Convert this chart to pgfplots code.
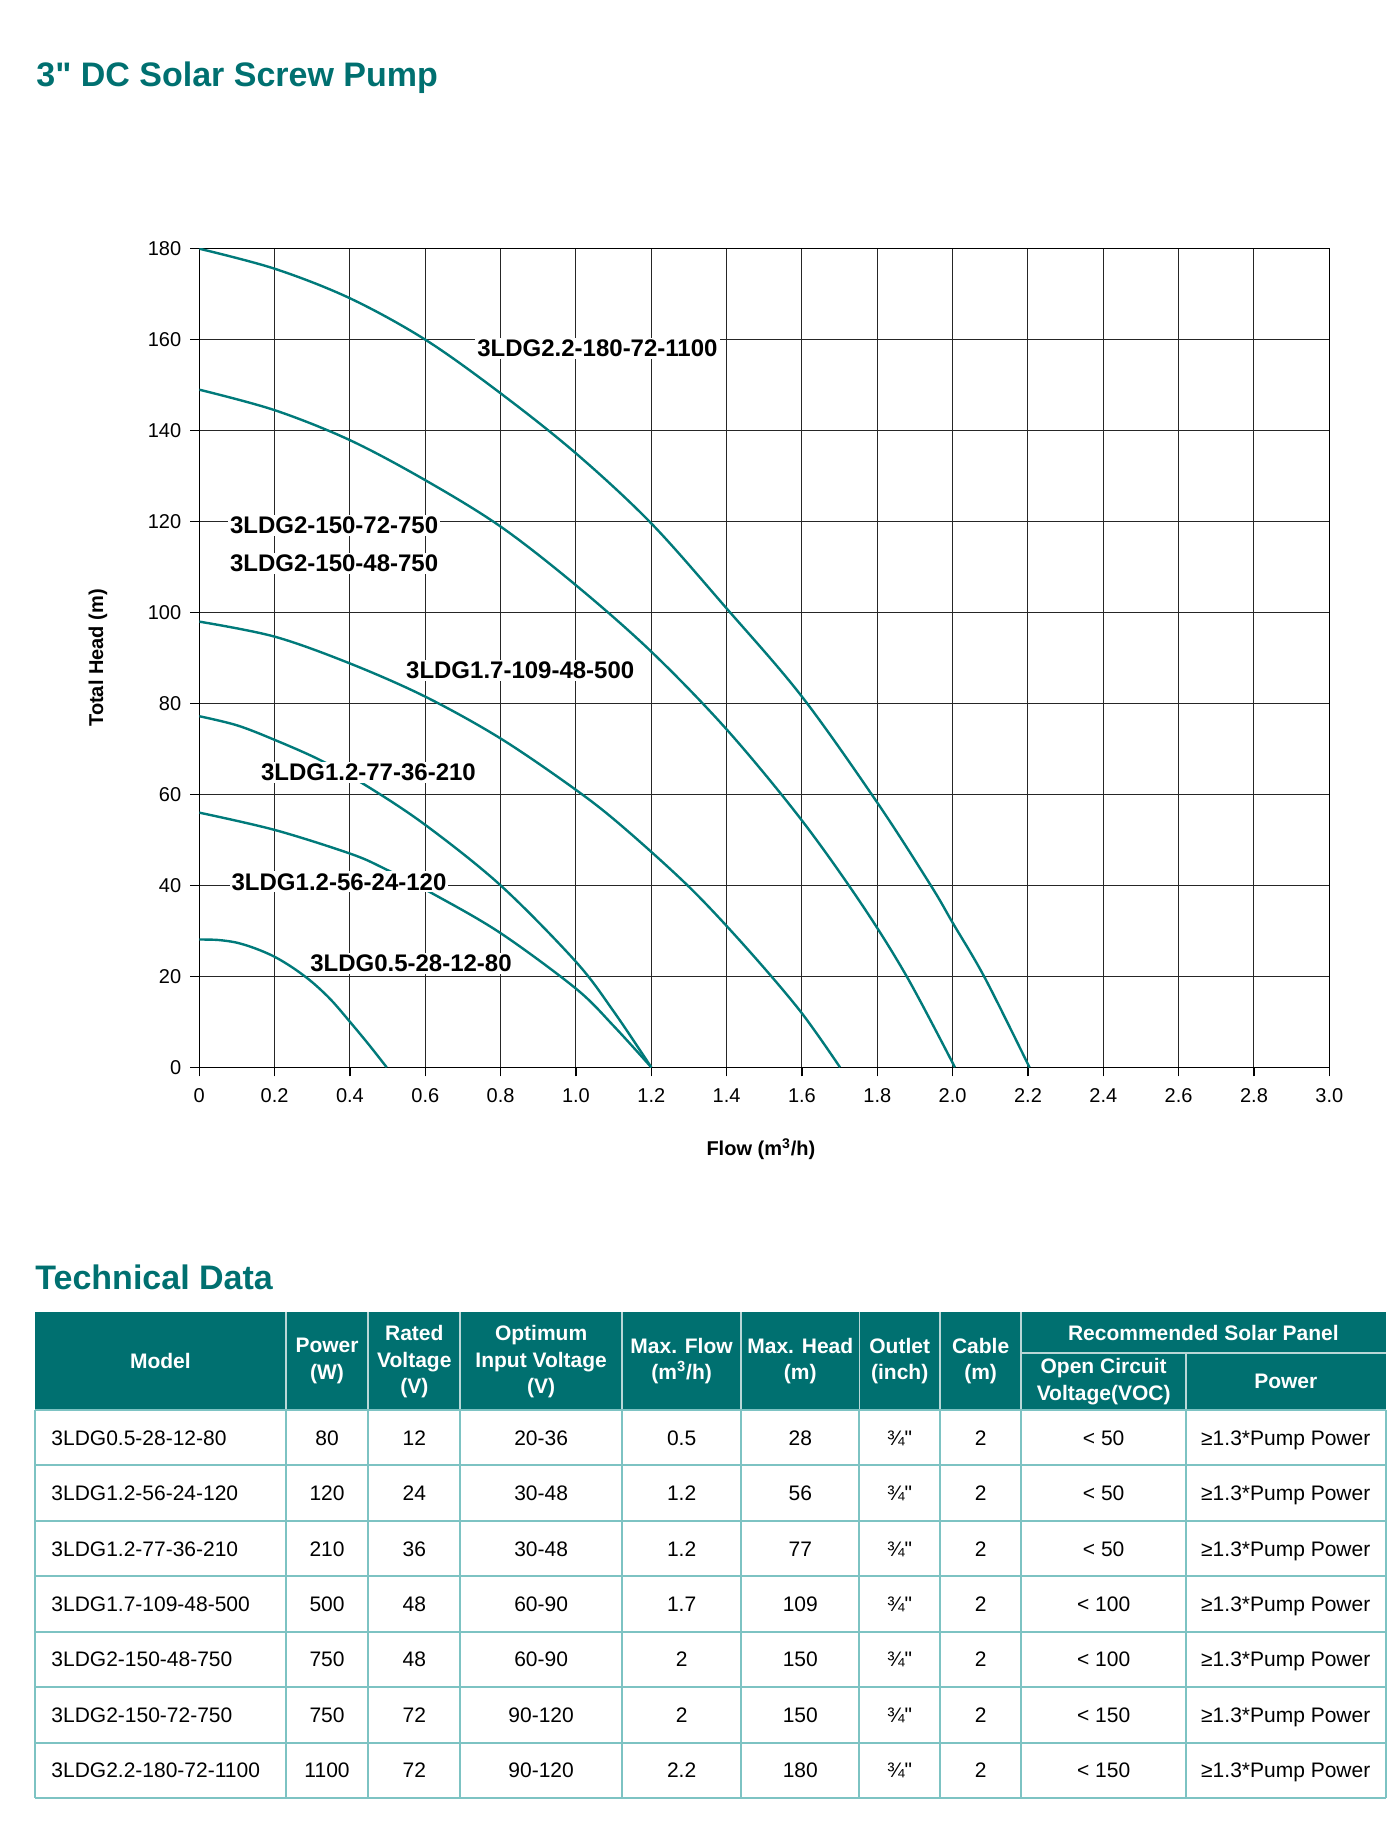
\documentclass[border=0pt]{standalone}
\usepackage{fontspec}
\setmainfont{Liberation Sans}[Ligatures=TeXOff]
\usepackage{pgfplots}
\pgfplotsset{compat=1.18}
\definecolor{teal1}{RGB}{0,112,112}
\definecolor{curvec}{RGB}{0,122,122}
\definecolor{gridl}{RGB}{125,195,195}
\definecolor{hsep}{RGB}{185,215,215}
\pgfplotsset{cv/.style={color=curvec, line width=1.2pt, mark=none, /tikz/smooth, /tikz/tension=0.55}}
\tikzset{
  lbl/.style={fill=white, inner sep=1pt, font=\bfseries\fontsize{12}{14}\selectfont},
}
\begin{document}
\begin{tikzpicture}
\useasboundingbox (0,0) rectangle (700pt,-911pt);
\begin{axis}[
  at={(99.65pt,-533.65pt)}, anchor=south west,
  scale only axis, width=565pt, height=409.3pt,
  xmin=0, xmax=3, ymin=0, ymax=180,
  xtick={0,0.2,0.4,0.6,0.8,1.0,1.2,1.4,1.6,1.8,2.0,2.2,2.4,2.6,2.8,3.0},
  xticklabels={0,0.2,0.4,0.6,0.8,1.0,1.2,1.4,1.6,1.8,2.0,2.2,2.4,2.6,2.8,3.0},
  ytick={0,20,40,60,80,100,120,140,160,180},
  grid=major, grid style={black!85, line width=0.5pt},
  axis line style={black, line width=0.7pt},
  tick align=outside, tick pos=left, major tick length=4.5pt,
  tick style={black, line width=0.6pt},
  tick label style={font=\fontsize{10}{12}\selectfont},
  xticklabel style={yshift=-2.5pt},
  yticklabel style={xshift=-1pt},
  /pgf/number format/assume math mode=true,
  xlabel={Flow (m\textsuperscript{3}/h)},
  ylabel={Total Head (m)},
  label style={font=\bfseries\fontsize{10}{12}\selectfont},
  xlabel style={at={(axis description cs:0.497,-0.1002)}, anchor=center},
  ylabel style={at={(axis description cs:-0.0897,0.5)}, anchor=center},
]
% 3LDG2.2-180-72-1100
\addplot[cv] coordinates {(0,180) (0.2,175.6) (0.4,169.1) (0.6,160) (0.8,148.2) (1.0,135) (1.2,119.6) (1.4,100.9) (1.6,81.5) (1.8,58.2) (1.942,40) (2.0,31.8) (2.086,19.6) (2.204,0)};
% 3LDG2-150
\addplot[cv] coordinates {(0,149) (0.2,144.5) (0.4,137.9) (0.6,129.1) (0.8,118.9) (1.0,106) (1.2,91.4) (1.4,74.3) (1.595,54.8) (1.754,36.4) (1.878,20) (2.006,0)};
% 3LDG1.7-109-48-500
\addplot[cv] coordinates {(0,98) (0.2,94.7) (0.4,88.8) (0.6,81.5) (0.8,72.3) (1.0,61) (1.124,52.9) (1.3,39.7) (1.45,26.5) (1.595,12.4) (1.701,0)};
% 3LDG1.2-77-36-210
\addplot[cv] coordinates {(0,77.2) (0.1,75.2) (0.2,72.0) (0.32,67.6) (0.44,62.1) (0.6,53.3) (0.8,40) (1.0,23.2) (1.1,12.3) (1.2,0)};
% 3LDG1.2-56-24-120
\addplot[cv] coordinates {(0,56) (0.2,52.2) (0.4,47) (0.489,43.8) (0.626,37.9) (0.8,29.5) (1.0,17.3) (1.1,9.1) (1.2,0)};
% 3LDG0.5-28-12-80
\addplot[cv] coordinates {(0,28.1) (0.05,28.0) (0.1,27.4) (0.15,26.1) (0.2,24.3) (0.25,21.8) (0.3,18.7) (0.35,14.8) (0.4,10.0) (0.45,5.0) (0.4975,0)};
\node[lbl] at (axis cs:1.057,158.1) {3LDG2.2-180-72-1100};
\node[lbl] at (axis cs:0.358,119.1) {3LDG2-150-72-750};
\node[lbl] at (axis cs:0.358,110.8) {3LDG2-150-48-750};
\node[lbl] at (axis cs:0.852,87.2) {3LDG1.7-109-48-500};
\node[lbl] at (axis cs:0.449,64.8) {3LDG1.2-77-36-210};
\node[lbl] at (axis cs:0.371,40.8) {3LDG1.2-56-24-120};
\node[lbl] at (axis cs:0.562,22.9) {3LDG0.5-28-12-80};
\end{axis}
\begin{scope}[x=0.5pt,y=-0.5pt]
\node[anchor=base west,inner sep=0,text=teal1,font=\bfseries\fontsize{17}{20}\selectfont] at (36,86) {3" DC Solar Screw Pump};
\node[anchor=base west,inner sep=0,text=teal1,font=\bfseries\fontsize{17}{20}\selectfont] at (35,1289.5) {Technical Data};
\fill[teal1] (35,1312) rectangle (1385.5,1410);
\foreach \x in {285.8,368.3,460.3,622,741.2,859.4,940,1021.3}
  \draw[hsep,line width=0.9pt] (\x,1312) -- (\x,1410);
\draw[hsep,line width=0.9pt] (1186,1352.7) -- (1186,1410);
\draw[hsep,line width=0.9pt] (1021.3,1352.7) -- (1385.5,1352.7);
\foreach \y in {1410,1465.4,1520.9,1576.3,1631.7,1687.1,1742.6,1798}
  \draw[gridl,line width=1pt] (35,\y) -- (1385.5,\y);
\foreach \x in {35,285.8,368.3,460.3,622,741.2,859.4,940,1021.3,1186,1385.5}
  \draw[gridl,line width=1pt] (\x,1410) -- (\x,1798);
\begin{scope}[every node/.style={text=white,align=center,inner sep=0,font=\bfseries\fontsize{10.5}{13.4}\selectfont}]
\node at (160.4,1361) {Model};
\node at (327.05,1361) {Power\\(W)};
\node at (414.3,1361.6) {Rated\\Voltage\\(V)};
\node at (541.15,1361.6) {Optimum\\Input Voltage\\(V)};
\node at (681.6,1361) {Max. Flow\\(m\textsuperscript{3}/h)};
\node at (800.3,1361) {Max. Head\\(m)};
\node at (899.7,1361) {Outlet\\(inch)};
\node at (980.65,1361) {Cable\\(m)};
\node at (1203.4,1332.6) {Recommended Solar Panel};
\node at (1103.65,1381.4) {Open Circuit\\Voltage(VOC)};
\node at (1285.75,1381.4) {Power};
\end{scope}
\begin{scope}[every node/.style={inner sep=0,anchor=base,font=\fontsize{10.5}{12.6}\selectfont}]
\foreach \y/\a/\b/\c/\d/\e/\f/\g/\h/\i/\j in {
 1437.7/3LDG0.5-28-12-80/80/12/20-36/0.5/28/¾"/2/< 50/≥1.3*Pump Power,
 1493.1/3LDG1.2-56-24-120/120/24/30-48/1.2/56/¾"/2/< 50/≥1.3*Pump Power,
 1548.6/3LDG1.2-77-36-210/210/36/30-48/1.2/77/¾"/2/< 50/≥1.3*Pump Power,
 1604/3LDG1.7-109-48-500/500/48/60-90/1.7/109/¾"/2/< 100/≥1.3*Pump Power,
 1659.4/3LDG2-150-48-750/750/48/60-90/2/150/¾"/2/< 100/≥1.3*Pump Power,
 1714.8/3LDG2-150-72-750/750/72/90-120/2/150/¾"/2/< 150/≥1.3*Pump Power,
 1770.3/3LDG2.2-180-72-1100/1100/72/90-120/2.2/180/¾"/2/< 150/≥1.3*Pump Power}{
  \node[anchor=base west] at (51,\y+7.5) {\a};
  \node at (327.05,\y+7.5) {\b};
  \node at (414.3,\y+7.5) {\c};
  \node at (541.15,\y+7.5) {\d};
  \node at (681.6,\y+7.5) {\e};
  \node at (800.3,\y+7.5) {\f};
  \node at (899.7,\y+7.5) {\g};
  \node at (980.65,\y+7.5) {\h};
  \node at (1103.65,\y+7.5) {\i};
  \node at (1285.75,\y+7.5) {\j};
}
\end{scope}
\end{scope}
\end{tikzpicture}
\end{document}
